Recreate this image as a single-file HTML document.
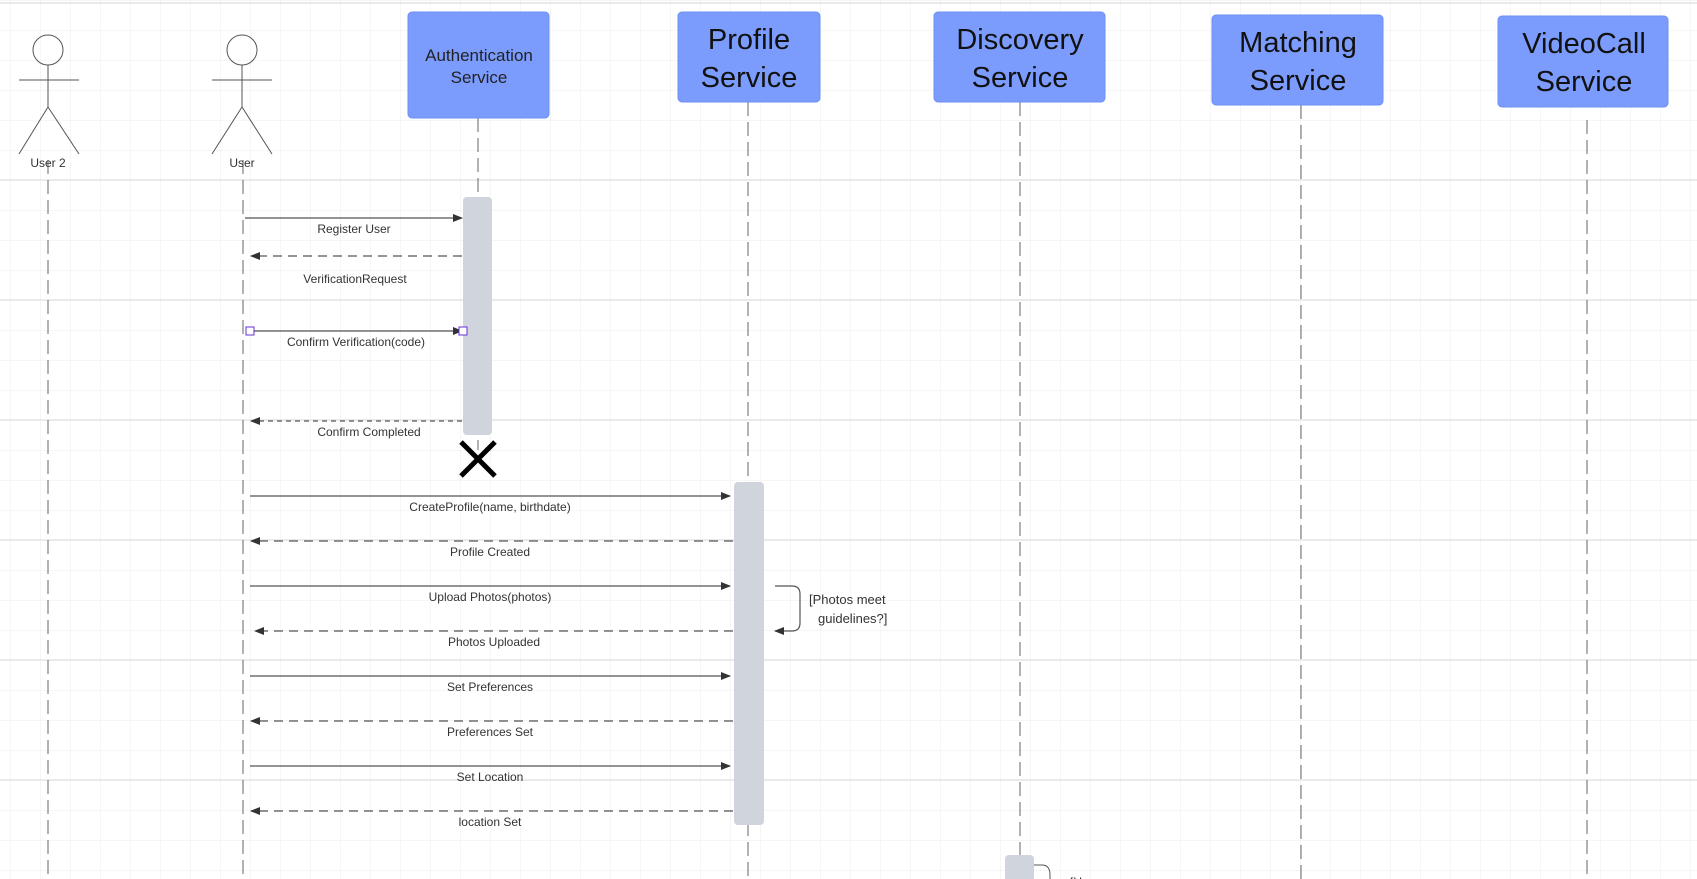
<!DOCTYPE html>
<html><head><meta charset="utf-8"><style>
html,body{margin:0;padding:0;background:#fff;}
svg{display:block;}
text{font-family:"Liberation Sans",sans-serif;fill:#333;}
</style></head><body>
<svg width="1697" height="879" viewBox="0 0 1697 879" xmlns="http://www.w3.org/2000/svg">
<defs>
<pattern id="g" x="10" y="0" width="30" height="30" patternUnits="userSpaceOnUse">
<path d="M0 0V30M0 0H30" stroke="#ededed" stroke-width="1" fill="none"/>
</pattern>
<marker id="a" markerWidth="10" markerHeight="10" refX="9" refY="5" orient="auto" markerUnits="userSpaceOnUse">
<path d="M0 1L10 5L0 9Z" fill="#333"/>
</marker>
</defs>
<rect width="1697" height="879" fill="url(#g)"/>
<g stroke="#e4e4e4" stroke-width="1.5">
<line x1="0" y1="180" x2="1697" y2="180"/><line x1="0" y1="300" x2="1697" y2="300"/>
<line x1="0" y1="420" x2="1697" y2="420"/><line x1="0" y1="540" x2="1697" y2="540"/>
<line x1="0" y1="660" x2="1697" y2="660"/><line x1="0" y1="780" x2="1697" y2="780"/>
<line x1="0" y1="3" x2="1697" y2="3"/>
</g>
<!-- lifelines -->
<g stroke="#666" stroke-width="1" stroke-dasharray="14,6" fill="none">
<line x1="48" y1="160" x2="48" y2="879"/>
<line x1="243" y1="160" x2="243" y2="879"/>
<line x1="478" y1="118" x2="478" y2="197"/>
<line x1="478" y1="440" x2="478" y2="450"/>
<line x1="748" y1="102" x2="748" y2="879"/>
<line x1="1020" y1="102" x2="1020" y2="855"/>
<line x1="1301" y1="105" x2="1301" y2="879"/>
<line x1="1587" y1="120" x2="1587" y2="879"/>
</g>
<!-- actors -->
<g stroke="#555" stroke-width="1" fill="none">
<circle cx="48" cy="50" r="15"/><line x1="19" y1="80" x2="79" y2="80"/><line x1="48" y1="65" x2="48" y2="107"/>
<path d="M19 154L48 107L79 154"/>
<circle cx="242" cy="50" r="15"/><line x1="212" y1="80" x2="272" y2="80"/><line x1="242" y1="65" x2="242" y2="107"/>
<path d="M212 154L242 107L272 154"/>
</g>
<text x="48" y="167" font-size="12" text-anchor="middle">User 2</text>
<text x="242" y="167" font-size="12" text-anchor="middle">User</text>
<!-- service boxes -->
<g fill="#7b9cfd" stroke="#6e90f5">
<rect x="408" y="12" width="141" height="106" rx="4"/>
<rect x="678" y="12" width="142" height="90" rx="4"/>
<rect x="934" y="12" width="171" height="90" rx="4"/>
<rect x="1212" y="15" width="171" height="90" rx="4"/>
<rect x="1498" y="16" width="170" height="91" rx="4"/>
</g>
<g text-anchor="middle">
<text x="479" y="61" font-size="17" style="fill:#222">Authentication</text>
<text x="479" y="83" font-size="17" style="fill:#222">Service</text>
<text x="749" y="49" font-size="29" style="fill:#111">Profile</text>
<text x="749" y="87" font-size="29" style="fill:#111">Service</text>
<text x="1020" y="49" font-size="29" style="fill:#111">Discovery</text>
<text x="1020" y="87" font-size="29" style="fill:#111">Service</text>
<text x="1298" y="52" font-size="29" style="fill:#111">Matching</text>
<text x="1298" y="90" font-size="29" style="fill:#111">Service</text>
<text x="1584" y="53" font-size="29" style="fill:#111">VideoCall</text>
<text x="1584" y="91" font-size="29" style="fill:#111">Service</text>
</g>
<!-- activations -->
<rect x="463" y="197" width="29" height="238" rx="4" fill="#cfd4dd"/>
<rect x="734" y="482" width="30" height="343" rx="4" fill="#cfd4dd"/>
<rect x="1005" y="855" width="29" height="40" rx="4" fill="#cfd4dd"/>
<path d="M1034 865h8q8 0 8 10v10" stroke="#555" fill="none"/>
<text x="1070" y="886" font-size="12">[Users ...</text>
<!-- destroy X -->
<g stroke="#000" stroke-width="5"><line x1="461" y1="442" x2="495" y2="476"/><line x1="495" y1="442" x2="461" y2="476"/></g>
<!-- messages -->
<g stroke="#555" stroke-width="1.2" fill="none">
<line x1="245" y1="218" x2="462" y2="218" marker-end="url(#a)"/>
<line x1="462" y1="256" x2="251" y2="256" stroke-dasharray="9,6" marker-end="url(#a)"/>
<line x1="250" y1="331" x2="462" y2="331" marker-end="url(#a)"/>
<line x1="462" y1="421" x2="251" y2="421" stroke-dasharray="5,4" marker-end="url(#a)"/>
<line x1="250" y1="496" x2="730" y2="496" marker-end="url(#a)"/>
<line x1="733" y1="541" x2="251" y2="541" stroke-dasharray="9,6" marker-end="url(#a)"/>
<line x1="250" y1="586" x2="730" y2="586" marker-end="url(#a)"/>
<line x1="733" y1="631" x2="255" y2="631" stroke-dasharray="9,6" marker-end="url(#a)"/>
<line x1="250" y1="676" x2="730" y2="676" marker-end="url(#a)"/>
<line x1="733" y1="721" x2="251" y2="721" stroke-dasharray="9,6" marker-end="url(#a)"/>
<line x1="250" y1="766" x2="730" y2="766" marker-end="url(#a)"/>
<line x1="733" y1="811" x2="251" y2="811" stroke-dasharray="9,6" marker-end="url(#a)"/>
<path d="M775 586h17q8 0 8 8v29q0 8-8 8h-17" marker-end="url(#a)"/>
</g>
<rect x="246" y="327" width="8" height="8" fill="#fff" stroke="#6a2fd6"/>
<rect x="459" y="327" width="8" height="8" fill="#fff" stroke="#6a2fd6"/>
<g font-size="12" text-anchor="middle">
<text x="354" y="233">Register User</text>
<text x="355" y="283">VerificationRequest</text>
<text x="356" y="346">Confirm Verification(code)</text>
<text x="369" y="436">Confirm Completed</text>
<text x="490" y="511">CreateProfile(name, birthdate)</text>
<text x="490" y="556">Profile Created</text>
<text x="490" y="601">Upload Photos(photos)</text>
<text x="494" y="646">Photos Uploaded</text>
<text x="490" y="691">Set Preferences</text>
<text x="490" y="736">Preferences Set</text>
<text x="490" y="781">Set Location</text>
<text x="490" y="826">location Set</text>
</g>
<text x="809" y="604" font-size="13">[Photos meet</text>
<text x="818" y="623" font-size="13">guidelines?]</text>
</svg>
</body></html>
